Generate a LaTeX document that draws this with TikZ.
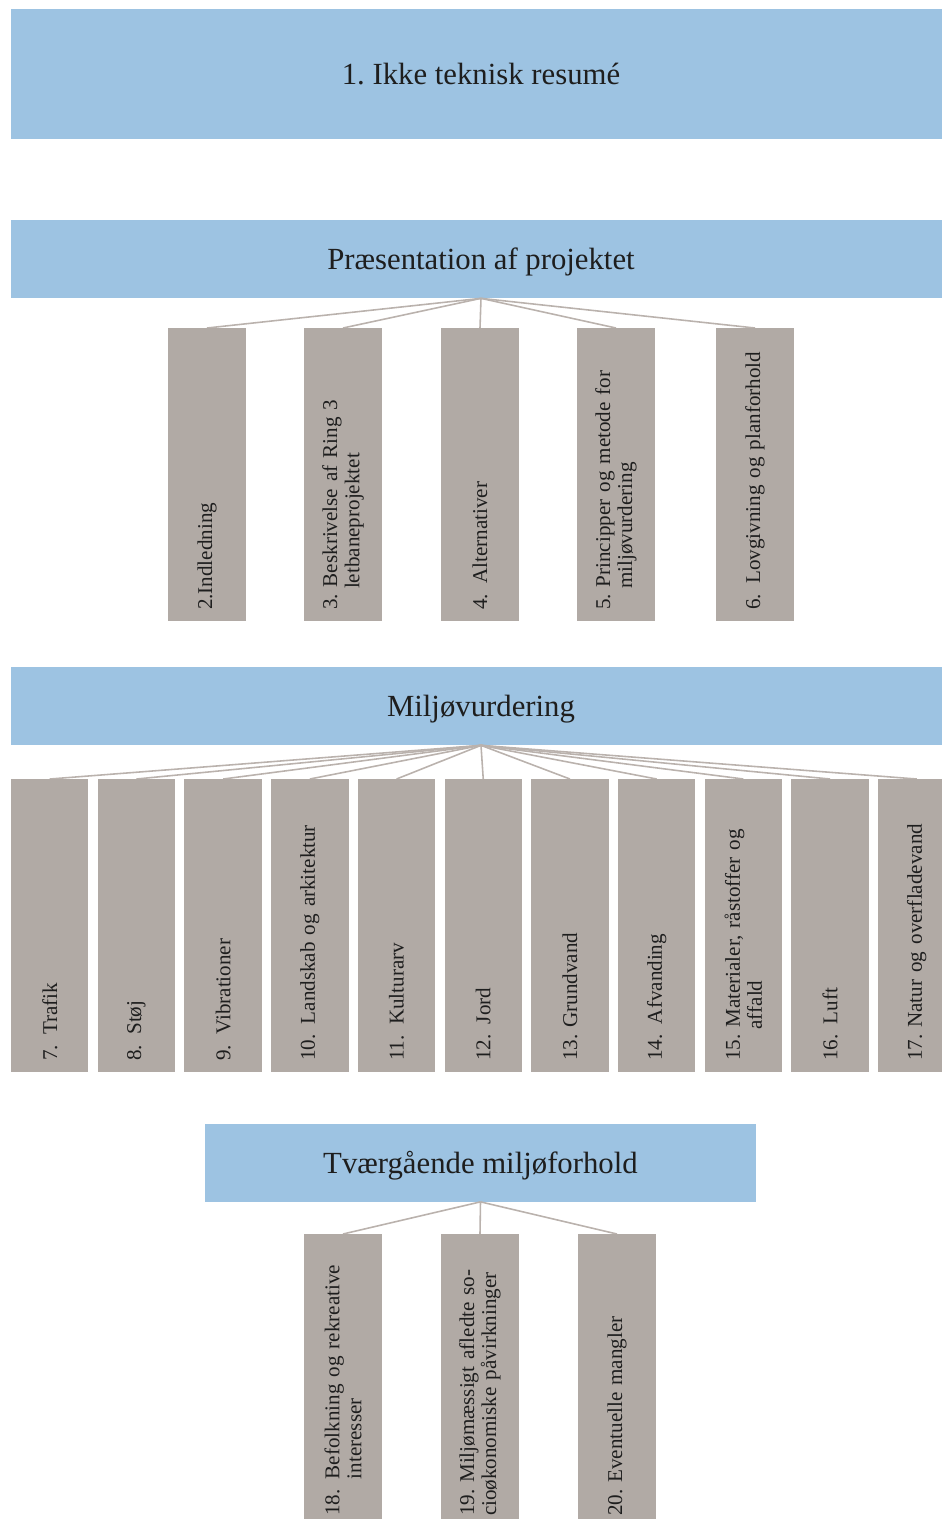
\documentclass[tikz,border=0pt]{standalone}
\usepackage{fontspec}
\setmainfont{Liberation Serif}
\frenchspacing
\definecolor{hdblue}{HTML}{9DC3E2}
\definecolor{boxgray}{HTML}{B1AAA5}
\definecolor{linegray}{HTML}{BAB2AD}
\definecolor{txtdark}{HTML}{1E1E1E}
\begin{document}
\begin{tikzpicture}[x=0.02cm, y=-0.02cm,
    head/.style={fill=hdblue, minimum width=18.8cm, minimum height=1.56cm,
              inner sep=0pt, text depth=0pt, text=txtdark, font=\fontsize{17.5}{20}\selectfont},
    gbox/.style={fill=boxgray, rotate=90, minimum width=5.86cm, minimum height=1.55cm,
              text width=5.42cm, inner xsep=0.22cm, inner ysep=0pt, align=left,
              text=txtdark, font=\fontsize{12}{12.6}\selectfont},
    conn/.style={draw=linegray, line width=0.9pt}]
                \clip (0,0) rectangle (942,1519);
                \node[head, minimum height=2.6cm] (t1) at (481,74) {1. Ikke teknisk resumé};
                \node[head] (t2) at (481,259) {Præsentation af projektet};
                \node[head] (t3) at (481,706) {Miljøvurdering};
                \node[head, minimum width=11.02cm] (t4) at (480.5,1162.5) {Tværgående miljøforhold};
                % projektet
                \foreach \i/\x/\t in {2/207/{2.Indledning},
                    3/343/{3. Beskrivelse af Ring 3\\\hspace*{1em}letbaneprojektet},
                    4/480/{4.\enspace Alternativer},
                    5/616/{5. Principper og metode for\\\hspace*{1em}miljøvurdering},
                    6/755/{6.\enspace Lovgivning og planforhold}}{
                    \draw[conn] (t2.south) -- (\x,328);
                    \node[gbox] (p\i) at (\x,474.5) {\t};
                };
                % miljoevurdering
                \foreach \i/\t [evaluate = \i as \x using {49.75 + (\i-7)*86.7}] in {
                    7/{7.\enspace Trafik}, 8/{8.\enspace Støj}, 9/{9.\enspace Vibrationer},
                    10/{10.\enspace Landskab og arkitektur}, 11/{11.\enspace Kulturarv},
                    12/{12.\enspace Jord}, 13/{13. Grundvand}, 14/{14.\enspace Afvanding},
                    15/{15. Materialer, råstoffer og\\\hspace*{1.5em}affald},
                    16/{16.\enspace Luft}, 17/{17. Natur og overfladevand}}{
                    \draw[conn] (t3.south) -- (\x,779);
                    \node[gbox] (m\i) at (\x,925.5) {\t};
                };
                % tvaergaaende
                \foreach \i/\x/\t in {18/343/{18.\enspace Befolkning og rekreative\\\hspace*{1.75em}interesser},
                    19/480/{19. Miljømæssigt afledte so-\\cioøkonomiske påvirkninger},
                    20/617/{20. Eventuelle mangler}}{
                    \draw[conn] (t4.south) -- (\x,1234);
                    \node[gbox] (f\i) at (\x,1380.5) {\t};
                };
            \end{tikzpicture}
\end{document}
